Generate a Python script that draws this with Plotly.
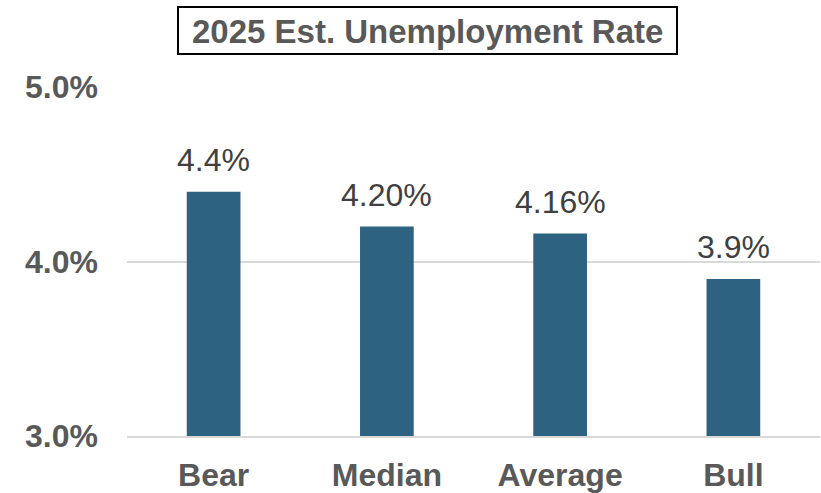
import plotly.graph_objects as go

categories = ["Bear", "Median", "Average", "Bull"]
values = [4.4, 4.20, 4.16, 3.9]
value_labels = ["4.4%", "4.20%", "4.16%", "3.9%"]
tick_vals = [3.0, 4.0, 5.0]
tick_text = ["3.0%", "4.0%", "5.0%"]
title_text = "2025 Est. Unemployment Rate"

FONT = "Liberation Sans, Arial"
W, H = 821, 493
L, R, T, B = 127, 1, 87, 57
PW, PH = W - L - R, H - T - B

fig = go.Figure()
fig.add_trace(go.Bar(
    x=categories, y=values,
    marker=dict(color="#2D6280", line=dict(width=0)),
    width=0.31,
))

annotations = []
for c, v, lab in zip(categories, values, value_labels):
    annotations.append(dict(
        x=c, y=v, xref="x", yref="y", text=lab, showarrow=False,
        xanchor="center", yanchor="bottom", yshift=12,
        font=dict(family=FONT, size=32, color="#404040"),
    ))

def px(x):
    return (x - L) / PW

def py(y):
    return (H - B - y) / PH

annotations.append(dict(
    text="<b>" + title_text + "</b>", xref="paper", yref="paper",
    x=px(427.5), y=py(31), xanchor="center", yanchor="middle",
    showarrow=False, font=dict(family=FONT, size=33, color="#595959"),
))

fig.update_layout(
    width=W, height=H,
    margin=dict(l=L, r=R, t=T, b=B),
    paper_bgcolor="white", plot_bgcolor="white",
    showlegend=False,
    font=dict(family=FONT),
    yaxis=dict(range=[3, 5], tickvals=tick_vals, ticktext=tick_text,
               showgrid=True, gridcolor="#D9D9D9", gridwidth=2,
               zeroline=False, showline=False,
               tickfont=dict(family=FONT, size=32, color="#595959", weight="bold"),
               ticklabelstandoff=28),
    xaxis=dict(showline=True, linecolor="#D9D9D9", linewidth=2, showgrid=False,
               tickfont=dict(family=FONT, size=32, color="#595959", weight="bold"),
               ticklabelstandoff=10),
    shapes=[dict(type="rect", xref="paper", yref="paper",
                 x0=px(178), x1=px(677), y0=py(54), y1=py(7),
                 line=dict(color="black", width=2), fillcolor="rgba(0,0,0,0)", layer="below")],
    annotations=annotations,
)

fig.write_html("out.html")
